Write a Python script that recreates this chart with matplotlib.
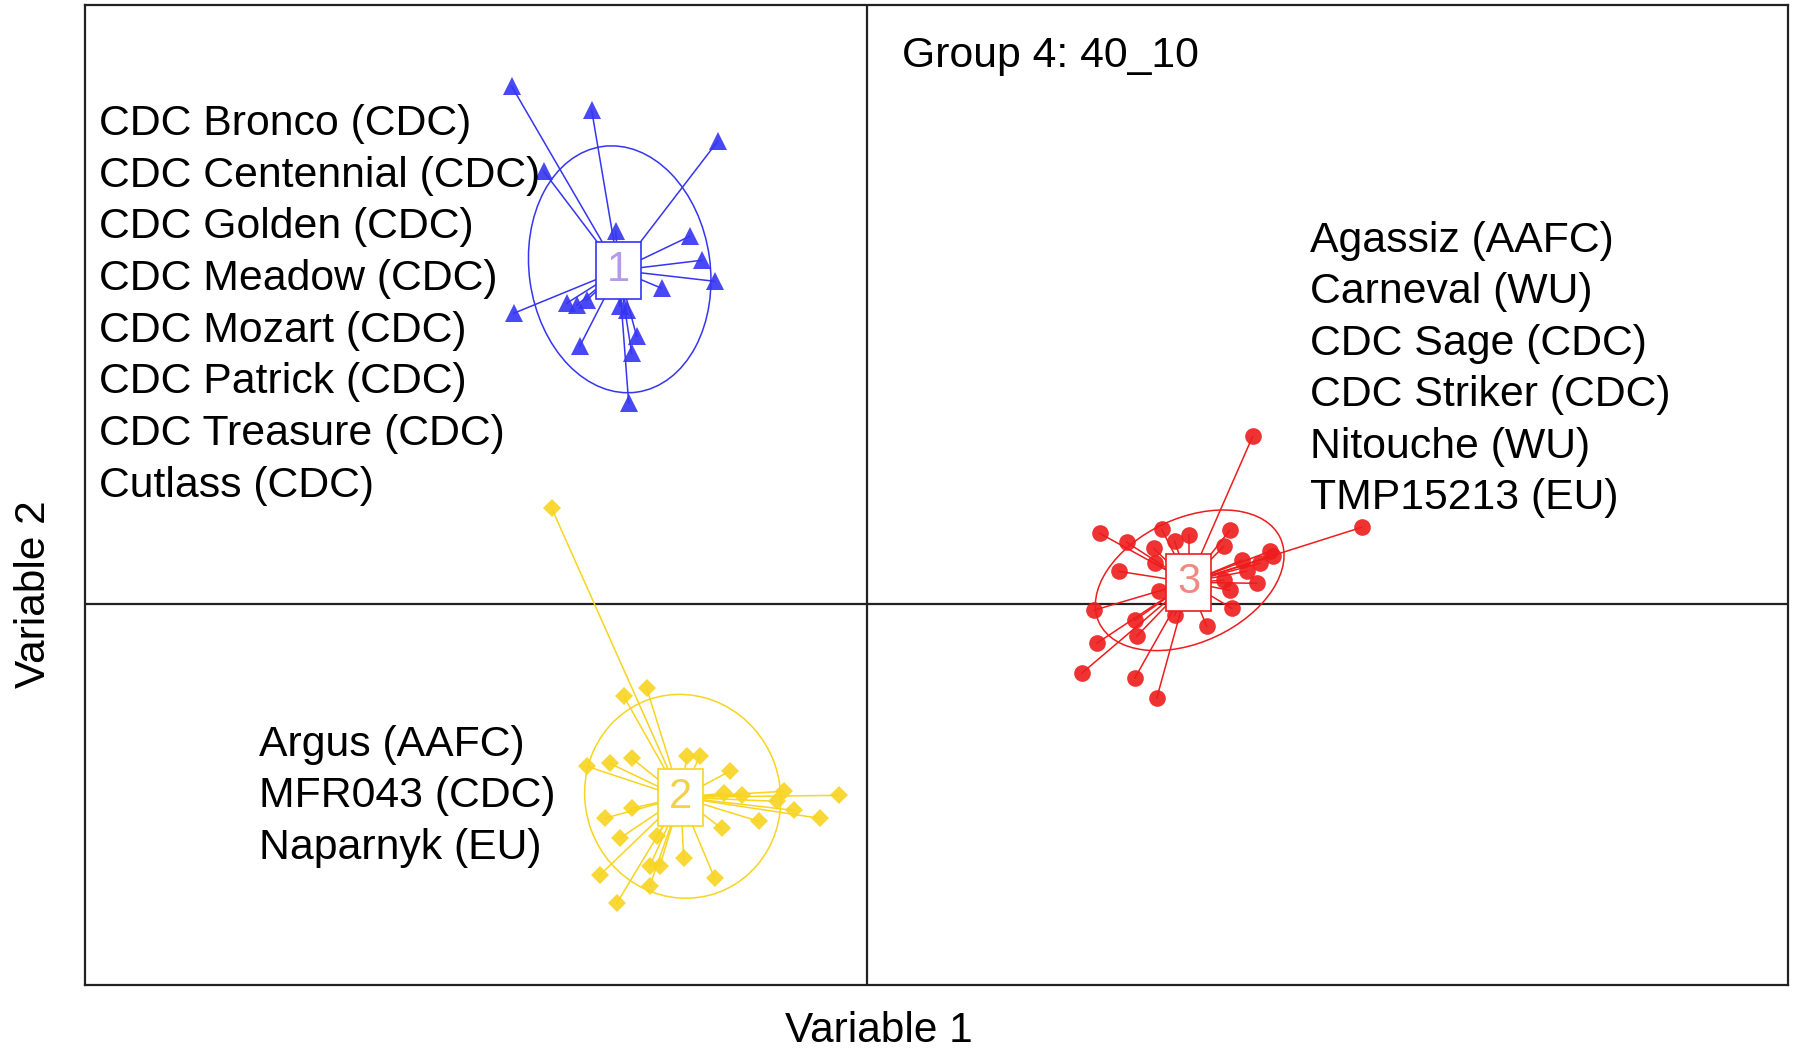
import matplotlib.pyplot as plt
from matplotlib.patches import Ellipse, Rectangle

plt.rcParams['font.family'] = ['Liberation Sans', 'DejaVu Sans']

W, H = 1794, 1053

# group 1: blue triangles
g1_x = [-3.55, -2.75, -1.49, -3.23, -2.51, -1.77, -1.65, -1.52, -2.05, -3.53,
        -3.00, -2.90, -2.80, -2.47, -2.40, -2.30, -2.35, -2.87, -2.38]
g1_y = [5.18, 4.94, 4.63, 4.33, 3.73, 3.68, 3.44, 3.23, 3.16, 2.91,
        3.01, 2.99, 3.04, 2.98, 2.94, 2.68, 2.51, 2.58, 2.01]
g1_center = (-2.48, 3.34)
g1_ellipse = (-2.47, 3.35, 1.81, 2.48, 8)
g1_names = ["CDC Bronco (CDC)", "CDC Centennial (CDC)", "CDC Golden (CDC)",
            "CDC Meadow (CDC)", "CDC Mozart (CDC)", "CDC Patrick (CDC)",
            "CDC Treasure (CDC)", "Cutlass (CDC)"]

# group 2: yellow diamonds
g2_x = [-3.15, -2.43, -2.20, -2.80, -2.57, -2.35, -1.80, -1.67, -1.37, -1.43,
        -0.83, -0.28, -0.73, -0.47, -1.08, -1.45, -2.62, -2.35, -2.47, -2.10,
        -1.83, -1.52, -2.67, -2.17, -2.07, -2.17, -2.50, -0.90, -1.25]
g2_y = [0.96, -0.92, -0.84, -1.62, -1.59, -1.54, -1.52, -1.52, -1.67, -1.89,
        -1.87, -1.91, -2.06, -2.14, -2.17, -2.24, -2.14, -2.04, -2.34, -2.32,
        -2.54, -2.74, -2.71, -2.62, -2.62, -2.82, -2.99, -1.97, -1.91]
g2_center = (-1.86, -1.93)
g2_ellipse = (-1.84, -1.92, 1.95, 2.05, 20)
g2_names = ["Argus (AAFC)", "MFR043 (CDC)", "Naparnyk (EU)"]

# group 3: red circles
g3_x = [3.86, 4.95, 2.33, 2.60, 2.95, 3.22, 3.08, 3.63, 2.87, 3.57,
        4.03, 2.88, 2.52, 3.75, 3.80, 3.90, 3.57, 3.63, 2.92, 2.27,
        3.65, 2.68, 3.08, 3.40, 2.70, 2.30, 2.15, 2.68, 2.90, 4.06, 3.93]
g3_y = [1.68, 0.77, 0.71, 0.62, 0.75, 0.69, 0.63, 0.74, 0.56, 0.58,
        0.53, 0.41, 0.33, 0.44, 0.33, 0.21, 0.24, 0.14, 0.13, -0.06,
        -0.04, -0.16, -0.11, -0.22, -0.32, -0.39, -0.69, -0.74, -0.94, 0.48, 0.41]
g3_center = (3.22, 0.22)
g3_ellipse = (3.23, 0.24, 2.0, 1.24, 25)
g3_names = ["Agassiz (AAFC)", "Carneval (WU)", "CDC Sage (CDC)",
            "CDC Striker (CDC)", "Nitouche (WU)", "TMP15213 (EU)"]

title_text = "Group 4: 40_10"


def draw_group(ax, xs, ys, center, ell, color, marker, ms, num, num_color):
    cx, cy = center
    for x, y in zip(xs, ys):
        ax.plot([cx, x], [cy, y], color=color, lw=1.1, zorder=2)
    ex, ey, ew, eh, ang = ell
    ax.add_patch(Ellipse((ex, ey), ew, eh, angle=ang, fill=False,
                         edgecolor=color, lw=1.1, zorder=2))
    ax.plot(xs, ys, linestyle="none", marker=marker, markersize=ms,
            color=color, markeredgewidth=0, alpha=0.9, zorder=3)
    bw, bh = 0.45, 0.57
    ax.add_patch(Rectangle((cx - bw / 2, cy - bh / 2), bw, bh,
                           facecolor="white", edgecolor=color, lw=1.2,
                           zorder=4))
    ax.text(cx, cy, num, color=num_color, fontsize=30, ha="center",
            va="center", zorder=5)


def fig_text(fig, px, py, s, **kw):
    fig.text(px / W, 1 - py / H, s, **kw)


fig = plt.figure(figsize=(W / 100, H / 100), dpi=100)
ax = fig.add_axes([85 / W, 1 - 985 / H, (1788 - 85) / W, (985 - 5) / H])
ax.set_xlim(-7.817, 9.213)
ax.set_ylim(-3.807, 5.993)
ax.set_xticks([])
ax.set_yticks([])
for sp in ax.spines.values():
    sp.set_linewidth(1.6)
    sp.set_color("#222222")
ax.axhline(0, color="#222222", lw=1.6, zorder=1)
ax.axvline(0, color="#222222", lw=1.6, zorder=1)

draw_group(ax, g1_x, g1_y, g1_center, g1_ellipse, "#3535f2", "^", 13,
           "1", "#b49be6")
draw_group(ax, g2_x, g2_y, g2_center, g2_ellipse, "#f8d420", "D", 9.5,
           "2", "#f2d24a")
draw_group(ax, g3_x, g3_y, g3_center, g3_ellipse, "#ee1c1c", "o", 12,
           "3", "#f08a80")

fs = 30.8
for i, name in enumerate(g1_names):
    fig_text(fig, 99, 135 + 51.7 * i, name, fontsize=fs, va="baseline")
for i, name in enumerate(g3_names):
    fig_text(fig, 1310, 251.7 + 51.5 * i, name, fontsize=fs, va="baseline")
for i, name in enumerate(g2_names):
    fig_text(fig, 259, 756 + 51.5 * i, name, fontsize=fs, va="baseline")
fig_text(fig, 902, 66.5, title_text, fontsize=fs, va="baseline")

fig_text(fig, 879, 1051, "Variable 1", fontsize=30.5, ha="center",
         va="bottom")
fig_text(fig, 14, 594, "Variable 2", fontsize=30.5, ha="left",
         va="center", rotation=90)

fig.savefig("out.png", dpi=100)
